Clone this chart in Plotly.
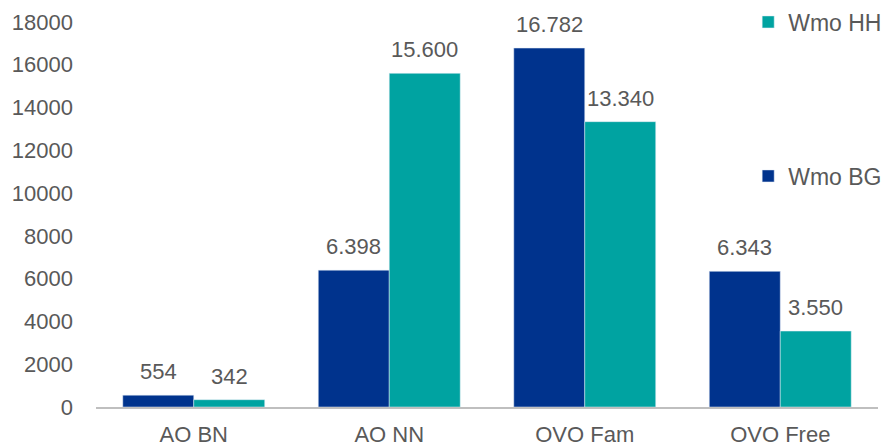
import plotly.graph_objects as go

categories = ["AO BN", "AO NN", "OVO Fam", "OVO Free"]
wmo_bg = [554, 6398, 16782, 6343]
wmo_hh = [342, 15600, 13340, 3550]
y_ticks = list(range(0, 18001, 2000))

BG_COLOR = "#00338D"
HH_COLOR = "#00A3A1"
TEXT = "#595959"
FONT = "Liberation Sans, Arial, sans-serif"
FS = 22

# the page body has an 8px default margin, so the figure is drawn 8px smaller
# and its margins reduced by the same amount on the left and top
PAGE_OFFSET = 8

fig = go.Figure()
fig.add_trace(go.Bar(name="Wmo BG", x=categories, y=wmo_bg, marker_color=BG_COLOR,
                     legend="legend2"))
fig.add_trace(go.Bar(name="Wmo HH", x=categories, y=wmo_hh, marker_color=HH_COLOR,
                     legend="legend"))

def fmt(v):
    return f"{v:,}".replace(",", ".")

annotations = []
for series, shift in ((wmo_bg, -35.5), (wmo_hh, 35.5)):
    for c, v in zip(categories, series):
        annotations.append(dict(x=c, y=v, xref="x", yref="y", text=fmt(v),
                                showarrow=False, xshift=shift, yshift=9,
                                yanchor="bottom",
                                font=dict(family=FONT, size=FS, color=TEXT)))

leg_common = dict(xanchor="left", yanchor="middle", xref="paper", yref="paper",
                  bgcolor="rgba(0,0,0,0)", itemwidth=30, borderwidth=0,
                  font=dict(family=FONT, size=23, color=TEXT))

fig.update_layout(
    width=891 - PAGE_OFFSET, height=446 - PAGE_OFFSET,
    margin=dict(l=96 - PAGE_OFFSET, r=13, t=22 - PAGE_OFFSET, b=39, autoexpand=False),
    paper_bgcolor="white", plot_bgcolor="white",
    barmode="group", bargap=0.274, bargroupgap=0,
    font=dict(family=FONT, size=FS, color=TEXT),
    annotations=annotations,
    legend=dict(x=0.834, y=1.0, **leg_common),
    legend2=dict(x=0.834, y=0.6, **leg_common),
    showlegend=True,
)
fig.update_xaxes(showline=True, linecolor="#BFBFBF", linewidth=2, ticks="",
                 showgrid=False, ticklabelstandoff=7,
                 tickfont=dict(family=FONT, size=FS, color=TEXT))
fig.update_yaxes(range=[0, 18000], tickvals=y_ticks, tickformat="d",
                 showgrid=False, zeroline=False, showline=False,
                 ticklabelstandoff=22,
                 tickfont=dict(family=FONT, size=FS, color=TEXT))

fig.write_html("out.html")
